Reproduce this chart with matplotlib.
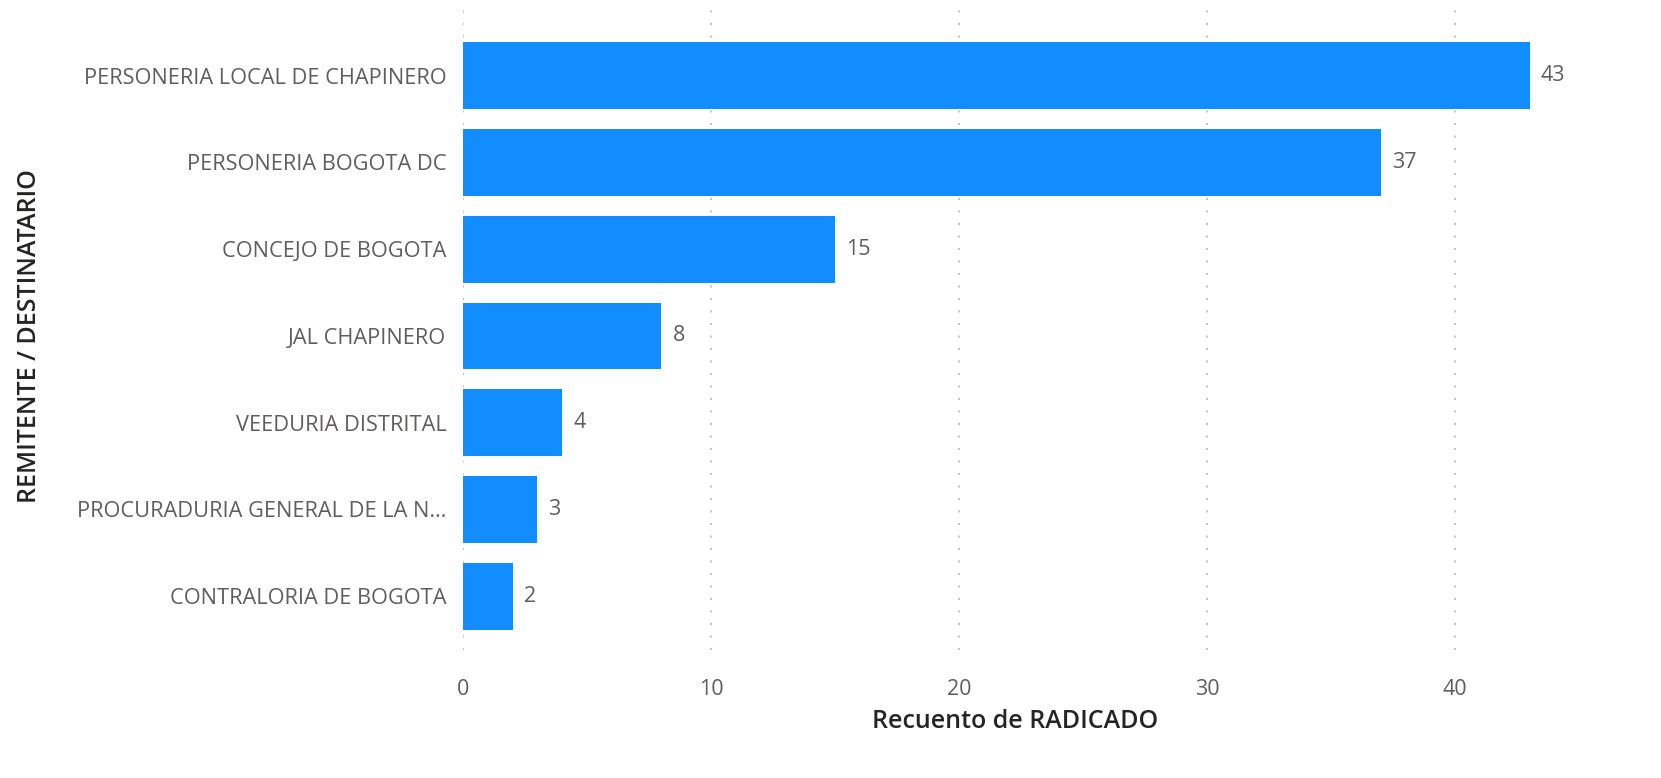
import matplotlib
matplotlib.use("Agg")
from matplotlib import pyplot as plt

# data
entidades = ["PERSONERIA LOCAL DE CHAPINERO", "PERSONERIA BOGOTA DC", "CONCEJO DE BOGOTA",
             "JAL CHAPINERO", "VEEDURIA DISTRITAL", "PROCURADURIA GENERAL DE LA N…",
             "CONTRALORIA DE BOGOTA"]
recuento = [43, 37, 15, 8, 4, 3, 2]
x_ticks = [0, 10, 20, 30, 40]

plt.rcParams['font.family'] = ['Open Sans', 'DejaVu Sans']

W, H = 1661, 778
fig = plt.figure(figsize=(W / 100, H / 100), dpi=100)
left, right, top, bottom = 463, 1542, 8, 650
ax = fig.add_axes([left / W, 1 - bottom / H, (right - left) / W, (bottom - top) / H])

pos = list(range(len(entidades)))
ax.barh(pos, recuento, height=0.77, color="#118DFF", zorder=2)
for p, v in zip(pos, recuento):
    ax.annotate(str(v), (v, p), xytext=(8, 0), textcoords="offset points",
                va="center", ha="left", fontsize=15.5, color="#605E5C", annotation_clip=False)

ax.set_xlim(0, 43.5)
ax.set_ylim(6.62, -0.78)
ax.set_yticks(pos)
ax.set_yticklabels(entidades, fontsize=15.7, color="#605E5C")
ax.set_xticks(x_ticks)
ax.set_xticklabels([str(t) for t in x_ticks], fontsize=15.5, color="#605E5C")
ax.tick_params(axis="both", length=0)
ax.tick_params(axis="y", pad=12)
ax.tick_params(axis="x", pad=21)
ax.grid(axis="x", color="#C8C6C4", linestyle=(0, (1, 5)), linewidth=1.5, zorder=0)
for s in ax.spines.values():
    s.set_visible(False)

fig.text(1015 / W, 1 - 721 / H, "Recuento de RADICADO", ha="center", va="center",
         fontsize=18, color="#252423", fontweight="semibold")
fig.text(30 / W, 1 - 336 / H, "REMITENTE / DESTINATARIO", ha="center", va="center",
         rotation=90, fontsize=18, color="#252423", fontweight="semibold")

plt.savefig("out.png", dpi=100)
